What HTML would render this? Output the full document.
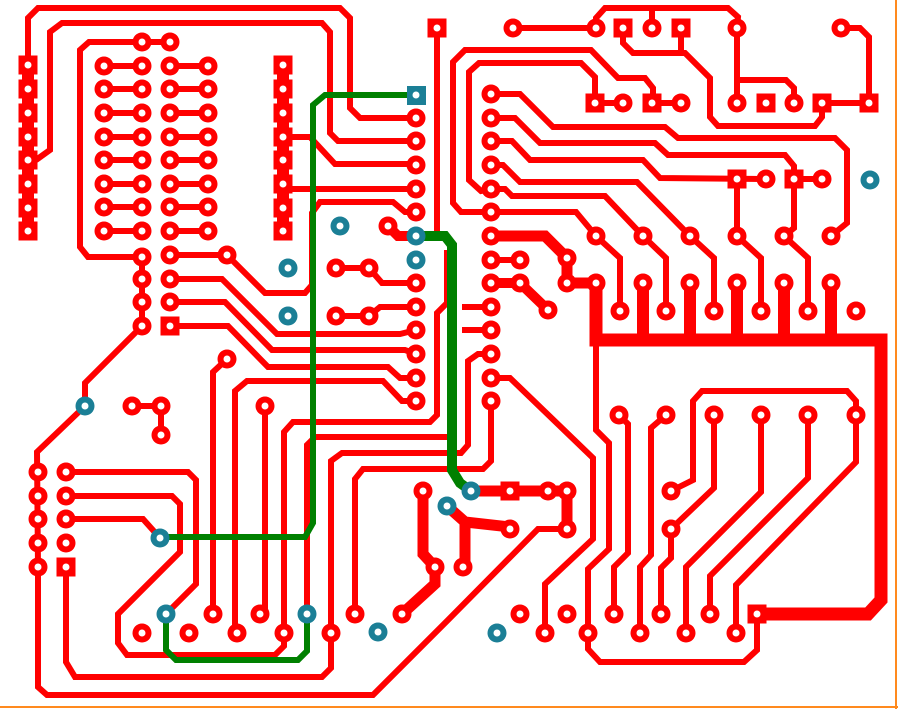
<!DOCTYPE html>
<html><head><meta charset="utf-8"><style>html,body{margin:0;padding:0;background:#fff}svg{display:block}</style></head>
<body>
<svg width="898" height="709" viewBox="0 0 898 709" xmlns="http://www.w3.org/2000/svg">
<defs>
<g id="p"><circle r="9.5" fill="#ff0000"/><circle r="3.5" fill="#fff"/></g>
<g id="s"><rect x="-9.5" y="-9.5" width="19" height="19" fill="#ff0000"/><circle r="3.5" fill="#fff"/></g>
<g id="v"><circle r="9.5" fill="#1b7f96"/><circle r="3.5" fill="#fff"/></g>
</defs>
<rect width="898" height="709" fill="#fff"/>
<line x1="0" y1="707" x2="898" y2="707" stroke="#ff8a1e" stroke-width="2"/>
<line x1="896" y1="0" x2="896" y2="709" stroke="#ff8a1e" stroke-width="2"/>

<g fill="none" stroke="#ff0000" stroke-width="6" stroke-linejoin="miter">
<line x1="28" y1="57" x2="28" y2="240" stroke-width="12"/>
<line x1="283" y1="57" x2="283" y2="240" stroke-width="12"/>
<polyline points="28,60 28,18 38,8 340,8 350,18 350,108 360,118 416,118"/>
<polyline points="36,160 50,150 50,32 62,23 322,23 330,32 330,133 338,141 416,141"/>
<polyline points="170,42 89,42 80,50 80,247 88,257 142,257"/>
<polyline points="104,66 142,66"/><polyline points="170,66 208,66"/>
<polyline points="104,89 142,89"/><polyline points="170,89 208,89"/>
<polyline points="104,113 142,113"/><polyline points="170,113 208,113"/>
<polyline points="104,137 142,137"/><polyline points="170,137 208,137"/>
<polyline points="104,160 142,160"/><polyline points="170,160 208,160"/>
<polyline points="104,184 142,184"/><polyline points="170,184 208,184"/>
<polyline points="104,207 142,207"/><polyline points="170,207 208,207"/>
<polyline points="104,231 142,231"/><polyline points="170,231 208,231"/>
<polyline points="142,257 142,326 85,383 85,406 37,452 38,567 38,687 47,695 373,695 448,620 538,529 567,529"/>
<polyline points="170,255 227,255 265,293 305,293 312,285 312,213 320,202 393,202 405,212 416,212"/>
<polyline points="170,279 222,279 277,334 400,334 416,330"/>
<polyline points="170,302 225,302 272,350 405,350 416,354"/>
<polyline points="170,326 228,326 268,367 388,367 400,378 416,378"/>
<polyline points="416,401 402,401 383,381 247,381 235,391 235,633"/>
<polyline points="227,359 213,372 213,614"/>
<polyline points="265,406 265,614"/>
<polyline points="437,28 437,232"/>
<polyline points="284,633 284,432 293,422 430,422 437,415 437,313 447,303 447,250"/>
<polyline points="307,614 307,445 315,437 447,437"/>
<polyline points="66,567 66,662 75,677 322,677 331,668 331,461 342,453 461,453 468,445 468,361 478,354 491,354"/>
<polyline points="355,614 355,479 363,469 483,469 491,461 491,401"/>
<polyline points="283,137 310,137 335,164 416,164"/>
<polyline points="283,189 416,189"/>
<polyline points="388,226 398,236 416,236" stroke-width="10"/>
<polyline points="336,268 369,268 382,283 416,283"/>
<polyline points="336,316 369,316 380,307 416,307"/>
<polyline points="132,406 161,406 161,435"/>
<polyline points="66,472 188,472 196,480 196,584 170,610"/>
<polyline points="66,496 172,496 180,504 180,552 118,614 118,643 127,655 275,655 284,646 284,633"/>
<polyline points="66,519 143,519 160,538"/>
<polyline points="423,491 423,554 435,567 435,584 402,614" stroke-width="11"/>
<polyline points="471,491 567,491 567,529" stroke-width="11"/>
<polyline points="447,506 465,522 510,527" stroke-width="11"/>
<polyline points="465,522 465,567" stroke-width="11"/>
<polyline points="491,378 510,378 593,458 593,539 545,584 545,633"/>
<polyline points="596,340 596,430 609,443 609,549 588,569 588,649 600,662 744,662 757,650 757,614"/>
<polyline points="596,283 596,340 881,340 881,600 868,614 757,614" stroke-width="13"/>
<polyline points="643,283 643,340" stroke-width="12"/><polyline points="690,283 690,340" stroke-width="12"/>
<polyline points="737,283 737,340" stroke-width="12"/><polyline points="784,283 784,340" stroke-width="12"/>
<polyline points="831,283 831,340" stroke-width="12"/>
<polyline points="596,236 620,258 620,311"/>
<polyline points="643,236 666,258 666,311"/>
<polyline points="690,236 714,258 714,311"/>
<polyline points="737,236 761,258 761,311"/>
<polyline points="784,236 808,258 808,311"/>
<polyline points="491,94 520,94 553,127 665,127 678,138 835,138 847,150 847,223 831,236"/>
<polyline points="491,118 515,118 540,143 655,143 668,155 785,155 794,166 794,228 784,236"/>
<polyline points="491,141 512,141 530,160 643,160 660,178 766,179"/>
<polyline points="737,179 737,236"/>
<polyline points="491,165 503,165 520,182 637,182 690,236"/>
<polyline points="491,189 505,189 512,196 605,196 643,236"/>
<polyline points="491,212 576,212 596,236"/>
<polyline points="491,189 481,191 469,180 469,72 479,63 581,63 595,77 595,103 623,103"/>
<polyline points="491,212 461,212 453,203 453,62 465,50 591,50 618,78 645,78 653,88 653,103 681,103"/>
<polyline points="794,179 822,179"/>
<polyline points="513,28 596,28"/>
<polyline points="596,28 596,18 605,8 728,8 738,17 737,28"/>
<polyline points="652,28 652,8"/>
<polyline points="681,28 681,53"/>
<polyline points="623,28 623,43 633,53 685,53 710,78 710,117 718,126 815,126 822,117 822,103 869,103"/>
<polyline points="737,28 737,103"/>
<polyline points="737,80 786,80 794,88 794,103"/>
<polyline points="841,28 860,28 869,37 869,103"/>
<polyline points="491,236 545,236 567,258 567,283 596,283" stroke-width="11"/>
<polyline points="491,260 520,260"/>
<polyline points="491,283 520,283 548,310" stroke-width="10"/>
<polyline points="491,307 462,307"/><polyline points="491,330 462,330"/>
<polyline points="619,415 628,424 628,553 614,567 614,614"/>
<polyline points="666,415 651,428 651,555 640,567 640,633"/>
<polyline points="714,415 714,488 671,529 671,558 661,568 661,614"/>
<polyline points="761,415 761,492 686,567 686,633"/>
<polyline points="808,415 808,478 710,576 710,614"/>
<polyline points="856,415 856,462 736,585 736,633"/>
<polyline points="671,491 693,480 693,401 702,391 847,391 856,401 856,415"/>
</g>
<g fill="none" stroke="#008000" stroke-width="6">
<polyline points="416,95 325,95 313,105 313,523 305,537 160,537"/>
<polyline points="166,614 166,650 176,660 298,660 307,651 307,614"/>
<polyline points="416,236 445,236 452,245 452,470 460,483 471,491" stroke-width="10"/>
</g>
<g>
<use href="#s" x="28" y="65"/><use href="#s" x="28" y="89"/><use href="#s" x="28" y="113"/><use href="#s" x="28" y="137"/>
<use href="#s" x="28" y="160"/><use href="#s" x="28" y="184"/><use href="#s" x="28" y="208"/><use href="#s" x="28" y="231"/>
<use href="#s" x="283" y="65"/><use href="#s" x="283" y="89"/><use href="#s" x="283" y="113"/><use href="#s" x="283" y="137"/>
<use href="#s" x="283" y="160"/><use href="#s" x="283" y="184"/><use href="#s" x="283" y="208"/><use href="#s" x="283" y="231"/>
<use href="#s" x="437" y="28"/><use href="#s" x="170" y="326"/><use href="#s" x="66" y="567"/><use href="#s" x="510" y="491"/>
<use href="#s" x="623" y="28"/><use href="#s" x="681" y="28"/><use href="#s" x="595" y="103"/><use href="#s" x="652" y="103"/>
<use href="#s" x="766" y="103"/><use href="#s" x="822" y="103"/><use href="#s" x="869" y="103"/><use href="#s" x="737" y="179"/>
<use href="#s" x="794" y="179"/><use href="#s" x="757" y="614"/>

<use href="#p" x="104" y="66"/><use href="#p" x="142" y="66"/><use href="#p" x="170" y="66"/><use href="#p" x="208" y="66"/>
<use href="#p" x="104" y="89"/><use href="#p" x="142" y="89"/><use href="#p" x="170" y="89"/><use href="#p" x="208" y="89"/>
<use href="#p" x="104" y="113"/><use href="#p" x="142" y="113"/><use href="#p" x="170" y="113"/><use href="#p" x="208" y="113"/>
<use href="#p" x="104" y="137"/><use href="#p" x="142" y="137"/><use href="#p" x="170" y="137"/><use href="#p" x="208" y="137"/>
<use href="#p" x="104" y="160"/><use href="#p" x="142" y="160"/><use href="#p" x="170" y="160"/><use href="#p" x="208" y="160"/>
<use href="#p" x="104" y="184"/><use href="#p" x="142" y="184"/><use href="#p" x="170" y="184"/><use href="#p" x="208" y="184"/>
<use href="#p" x="104" y="207"/><use href="#p" x="142" y="207"/><use href="#p" x="170" y="207"/><use href="#p" x="208" y="207"/>
<use href="#p" x="104" y="231"/><use href="#p" x="142" y="231"/><use href="#p" x="170" y="231"/><use href="#p" x="208" y="231"/>
<use href="#p" x="142" y="42"/><use href="#p" x="170" y="42"/>
<use href="#p" x="142" y="257"/><use href="#p" x="142" y="279"/><use href="#p" x="142" y="302"/><use href="#p" x="142" y="326"/>
<use href="#p" x="170" y="255"/><use href="#p" x="170" y="279"/><use href="#p" x="170" y="302"/><use href="#p" x="227" y="255"/>
<use href="#p" x="416" y="118"/><use href="#p" x="416" y="141"/><use href="#p" x="416" y="165"/><use href="#p" x="416" y="189"/>
<use href="#p" x="416" y="212"/><use href="#p" x="416" y="283"/><use href="#p" x="416" y="307"/><use href="#p" x="416" y="330"/>
<use href="#p" x="416" y="354"/><use href="#p" x="416" y="378"/><use href="#p" x="416" y="401"/>
<use href="#p" x="388" y="226"/><use href="#p" x="336" y="268"/><use href="#p" x="369" y="268"/><use href="#p" x="336" y="316"/><use href="#p" x="369" y="316"/>
<use href="#p" x="132" y="406"/><use href="#p" x="161" y="406"/><use href="#p" x="161" y="435"/><use href="#p" x="227" y="359"/><use href="#p" x="265" y="406"/>
<use href="#p" x="38" y="472"/><use href="#p" x="38" y="496"/><use href="#p" x="38" y="519"/><use href="#p" x="38" y="543"/><use href="#p" x="38" y="567"/>
<use href="#p" x="66" y="472"/><use href="#p" x="66" y="496"/><use href="#p" x="66" y="519"/><use href="#p" x="66" y="543"/>
<use href="#p" x="142" y="633"/><use href="#p" x="189" y="633"/><use href="#p" x="237" y="633"/><use href="#p" x="284" y="633"/><use href="#p" x="331" y="633"/>
<use href="#p" x="213" y="614"/><use href="#p" x="260" y="614"/><use href="#p" x="355" y="614"/><use href="#p" x="402" y="614"/>
<use href="#p" x="423" y="491"/><use href="#p" x="463" y="567"/><use href="#p" x="435" y="567"/>
<use href="#p" x="491" y="94"/><use href="#p" x="491" y="118"/><use href="#p" x="491" y="141"/><use href="#p" x="491" y="165"/>
<use href="#p" x="491" y="189"/><use href="#p" x="491" y="212"/><use href="#p" x="491" y="236"/><use href="#p" x="491" y="260"/>
<use href="#p" x="491" y="283"/><use href="#p" x="491" y="307"/><use href="#p" x="491" y="330"/><use href="#p" x="491" y="354"/>
<use href="#p" x="491" y="378"/><use href="#p" x="491" y="401"/>
<use href="#p" x="520" y="260"/><use href="#p" x="520" y="283"/><use href="#p" x="548" y="310"/><use href="#p" x="567" y="258"/><use href="#p" x="567" y="283"/>
<use href="#p" x="596" y="283"/><use href="#p" x="643" y="283"/><use href="#p" x="690" y="283"/><use href="#p" x="737" y="283"/><use href="#p" x="784" y="283"/><use href="#p" x="831" y="283"/>
<use href="#p" x="620" y="311"/><use href="#p" x="666" y="311"/><use href="#p" x="714" y="311"/><use href="#p" x="761" y="311"/><use href="#p" x="808" y="311"/><use href="#p" x="856" y="311"/>
<use href="#p" x="596" y="236"/><use href="#p" x="643" y="236"/><use href="#p" x="690" y="236"/><use href="#p" x="737" y="236"/><use href="#p" x="784" y="236"/><use href="#p" x="831" y="236"/>
<use href="#p" x="766" y="179"/><use href="#p" x="822" y="179"/>
<use href="#p" x="513" y="28"/><use href="#p" x="596" y="28"/><use href="#p" x="652" y="28"/><use href="#p" x="737" y="28"/><use href="#p" x="841" y="28"/>
<use href="#p" x="623" y="103"/><use href="#p" x="681" y="103"/><use href="#p" x="737" y="103"/><use href="#p" x="794" y="103"/>
<use href="#p" x="548" y="491"/><use href="#p" x="567" y="491"/><use href="#p" x="567" y="529"/><use href="#p" x="510" y="529"/>
<use href="#p" x="520" y="614"/><use href="#p" x="567" y="614"/><use href="#p" x="545" y="633"/><use href="#p" x="588" y="633"/>
<use href="#p" x="614" y="614"/><use href="#p" x="640" y="633"/><use href="#p" x="661" y="614"/><use href="#p" x="686" y="633"/>
<use href="#p" x="710" y="614"/><use href="#p" x="736" y="633"/>
<use href="#p" x="619" y="415"/><use href="#p" x="666" y="415"/><use href="#p" x="714" y="415"/><use href="#p" x="761" y="415"/><use href="#p" x="808" y="415"/><use href="#p" x="856" y="415"/>
<use href="#p" x="671" y="491"/><use href="#p" x="671" y="529"/>

<rect x="407" y="86" width="19" height="19" fill="#1b7f96"/><circle cx="416" cy="95" r="3.5" fill="#fff"/>
<use href="#v" x="340" y="226"/><use href="#v" x="288" y="268"/><use href="#v" x="288" y="316"/><use href="#v" x="416" y="236"/>
<use href="#v" x="416" y="260"/><use href="#v" x="85" y="406"/><use href="#v" x="160" y="538"/><use href="#v" x="166" y="614"/>
<use href="#v" x="307" y="614"/><use href="#v" x="378" y="632"/><use href="#v" x="447" y="506"/><use href="#v" x="471" y="491"/>
<use href="#v" x="497" y="633"/><use href="#v" x="870" y="180"/>
</g>
</svg>
</body></html>
